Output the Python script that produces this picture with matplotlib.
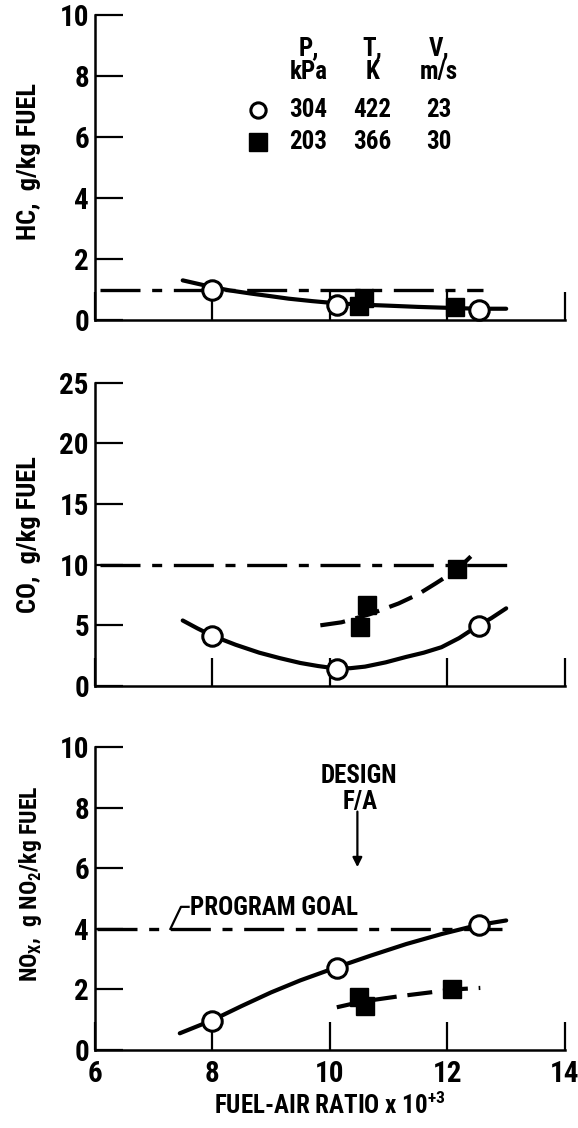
import matplotlib
matplotlib.use('Agg')
import matplotlib.pyplot as plt
import matplotlib.font_manager as fm

# ---- choose a condensed sans face if one is installed ----
def _is_condensed(st):
    if isinstance(st, (int, float)):
        return st < 500
    return 'condensed' in str(st).lower() or 'narrow' in str(st).lower()

_prefs = [('Liberation Sans Narrow', False), ('Roboto Condensed', False),
          ('Open Sans Condensed', False), ('Noto Sans Condensed', False),
          ('DejaVu Sans', True), ('Noto Sans', True), ('Open Sans', True),
          ('Roboto', True), ('Inter', True)]
_family, _stretch = 'DejaVu Sans', 'normal'
for fam, need_cond in _prefs:
    ents = [e for e in fm.fontManager.ttflist if e.name == fam]
    if not ents:
        continue
    if need_cond:
        if any(_is_condensed(e.stretch) for e in ents):
            _family, _stretch = fam, 'condensed'
            break
    else:
        _family, _stretch = fam, 'normal'
        break

plt.rcParams['font.family'] = [_family, 'DejaVu Sans']
plt.rcParams['font.stretch'] = _stretch
plt.rcParams['font.weight'] = 'bold'
plt.rcParams['axes.labelweight'] = 'bold'

# ---------------- data ----------------
# open circles: P=304 kPa, T=422 K, V=23 m/s
fa_open = [8.0, 10.12, 12.53]
hc_open = [1.0, 0.5, 0.33]
co_open = [4.15, 1.4, 4.97]
nox_open = [0.97, 2.72, 4.12]

# filled squares: P=203 kPa, T=366 K, V=30 m/s
fa_sq_hc = [10.5, 10.58, 12.13]
hc_sq = [0.45, 0.72, 0.44]
fa_sq_co = [10.52, 10.63, 12.16]
co_sq = [4.86, 6.67, 9.65]
fa_sq_nox = [10.5, 10.6, 12.08]
nox_sq = [1.75, 1.45, 2.0]

# faired curves
hc_curve_x = [7.5, 7.75, 8.0, 8.3, 8.65, 9.0, 9.3, 9.7, 10.1, 10.6, 11.0, 11.5, 12.0, 12.5, 13.0]
hc_curve_y = [1.3, 1.19, 1.08, 0.97, 0.87, 0.78, 0.7, 0.62, 0.55, 0.5, 0.47, 0.43, 0.4, 0.37, 0.37]
co_curve_x = [7.5, 7.75, 8.0, 8.4, 8.8, 9.15, 9.5, 9.8, 10.1, 10.35, 10.6, 10.95, 11.3, 11.6, 11.9, 12.2, 12.5, 12.75, 13.0]
co_curve_y = [5.4, 4.75, 4.15, 3.4, 2.75, 2.3, 1.9, 1.65, 1.45, 1.47, 1.6, 1.95, 2.4, 2.75, 3.2, 3.95, 4.9, 5.6, 6.4]
co_dash_x = [9.84, 10.2, 10.67, 11.17, 11.5, 11.8, 12.17, 12.48]
co_dash_y = [5.0, 5.25, 5.9, 6.8, 7.55, 8.45, 9.6, 11.06]
nox_curve_x = [7.45, 8.0, 8.5, 9.0, 9.5, 10.1, 10.7, 11.3, 11.9, 12.5, 13.0]
nox_curve_y = [0.55, 0.98, 1.45, 1.9, 2.3, 2.72, 3.12, 3.5, 3.83, 4.12, 4.28]
nox_dash_x = [10.12, 10.55, 11.2, 11.7, 12.1, 12.56]
nox_dash_y = [1.41, 1.6, 1.78, 1.9, 2.0, 2.05]

# program goals
hc_goal, hc_goal_x = 1.0, [6.1, 12.6]
co_goal, co_goal_x = 10.0, [6.1, 13.05]
nox_goal, nox_goal_x = 4.0, [6.05, 12.93]

# legend table
legend_heads = ['P,', 'T,', 'V,']
legend_units = ['kPa', 'K', 'm/s']
legend_row_open = ['304', '422', '23']
legend_row_sq = ['203', '366', '30']

x_ticks = [6, 8, 10, 12, 14]
hc_ticks = [0, 2, 4, 6, 8, 10]
co_ticks = [0, 5, 10, 15, 20, 25]
nox_ticks = [0, 2, 4, 6, 8, 10]

# ---------------- figure ----------------
fig = plt.figure(figsize=(5.78, 11.28), dpi=100)
left, width = 0.1635, 0.814
ax1 = fig.add_axes([left, 0.7163, width, 0.2704])
ax2 = fig.add_axes([left, 0.3918, width, 0.2691])
ax3 = fig.add_axes([left, 0.0692, width, 0.2682])

FS = 21      # tick labels
TFS = 18     # annotation / legend text
LFS = 19     # y axis labels
goal_style = dict(color='black', lw=2.4, linestyle=(0, (12, 3.5, 3, 3.5)),
                  solid_capstyle='butt')
curve_style = dict(color='black', lw=3.0, solid_capstyle='round',
                   solid_joinstyle='round', zorder=3)
dash_style = dict(color='black', lw=3.0, linestyle=(0, (6, 2.6)), zorder=3)
open_style = dict(marker='o', ms=14, mfc='white', mec='black', mew=2.2,
                  linestyle='none', zorder=5, clip_on=False)
sq_style = dict(marker='s', ms=13.5, mfc='black', mec='black', mew=1,
                linestyle='none', zorder=5, clip_on=False)

for i, (ax, yt) in enumerate(((ax1, hc_ticks), (ax2, co_ticks), (ax3, nox_ticks))):
    ax.set_xlim(6, 14)
    ax.set_ylim(yt[0], yt[-1])
    ax.set_xticks(x_ticks)
    ax.set_yticks(yt)
    ax.set_yticklabels([str(t) for t in yt], fontsize=FS, fontweight='bold')
    if i == 2:
        ax.set_xticklabels([str(t) for t in x_ticks], fontsize=FS, fontweight='bold')
    else:
        ax.set_xticklabels([])
    ax.spines['top'].set_visible(False)
    ax.spines['right'].set_visible(False)
    ax.spines['left'].set_linewidth(1.8)
    ax.spines['bottom'].set_linewidth(1.8)
    ax.tick_params(axis='x', direction='in', length=20, width=1.6, pad=7)
    ax.tick_params(axis='y', direction='in', length=20, width=1.6, pad=4)
    ax.patch.set_alpha(0)

# ---- HC panel ----
ax1.plot(hc_goal_x, [hc_goal, hc_goal], **goal_style)
ax1.plot(hc_curve_x, hc_curve_y, **curve_style)
ax1.plot(fa_open, hc_open, **open_style)
ax1.plot(fa_sq_hc, hc_sq, **sq_style)
ax1.set_ylabel('HC,  g/kg FUEL', fontsize=LFS)
ax1.yaxis.set_label_coords(-0.113, 0.52)

col_x = [9.64, 10.72, 11.86]
for cx, h, u, a, b in zip(col_x, legend_heads, legend_units,
                          legend_row_open, legend_row_sq):
    ax1.text(cx, 8.91, h, ha='center', va='center', fontsize=TFS)
    ax1.text(cx, 8.14, u, ha='center', va='center', fontsize=TFS)
    ax1.text(cx, 6.89, a, ha='center', va='center', fontsize=TFS)
    ax1.text(cx, 5.85, b, ha='center', va='center', fontsize=TFS)
ax1.plot([8.78], [6.89], marker='o', ms=11, mfc='white', mec='black',
         mew=2.2, linestyle='none')
ax1.plot([8.78], [5.85], marker='s', ms=13, mfc='black', mec='black',
         linestyle='none')

# ---- CO panel ----
ax2.plot(co_goal_x, [co_goal, co_goal], **goal_style)
ax2.plot(co_curve_x, co_curve_y, **curve_style)
ax2.plot(co_dash_x, co_dash_y, **dash_style)
ax2.plot(fa_open, co_open, **open_style)
ax2.plot(fa_sq_co, co_sq, **sq_style)
ax2.set_ylabel('CO,  g/kg FUEL', fontsize=LFS)
ax2.yaxis.set_label_coords(-0.113, 0.5)

# ---- NOx panel ----
ax3.plot(nox_goal_x, [nox_goal, nox_goal], **goal_style)
ax3.plot(nox_curve_x, nox_curve_y, **curve_style)
ax3.plot(nox_dash_x, nox_dash_y, **dash_style)
ax3.plot(fa_open, nox_open, **open_style)
ax3.plot(fa_sq_nox, nox_sq, **sq_style)
ax3.set_ylabel(r'NO$_\mathregular{X}$,  g NO$_\mathregular{2}$/kg FUEL', fontsize=17)
ax3.yaxis.set_label_coords(-0.108, 0.55)
ax3.set_xlabel(r'FUEL-AIR RATIO x 10$^\mathregular{+3}$', fontsize=18, labelpad=3)

ax3.plot([7.29, 7.47, 7.6], [4.0, 4.73, 4.73], color='black', lw=1.6)
ax3.text(7.63, 4.70, 'PROGRAM GOAL', ha='left', va='center', fontsize=TFS)
ax3.text(10.5, 9.07, 'DESIGN', ha='center', va='center', fontsize=TFS)
ax3.text(10.52, 8.19, 'F/A', ha='center', va='center', fontsize=TFS)
ax3.annotate('', xy=(10.47, 5.95), xytext=(10.47, 7.97),
             arrowprops=dict(arrowstyle='-|>', color='black', lw=1.6,
                             mutation_scale=14))

fig.savefig('out.png', dpi=100)
